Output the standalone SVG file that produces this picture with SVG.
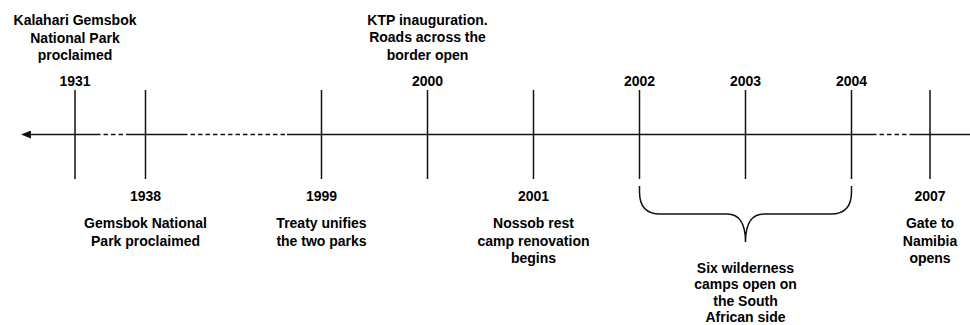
<svg xmlns="http://www.w3.org/2000/svg" width="970" height="325" viewBox="0 0 970 325">
  <style>
    text { font-family: "Liberation Sans", Arial, sans-serif; font-weight: bold; font-size: 14px; fill: #000; text-anchor: middle; }
    .line { stroke: #111; stroke-width: 1.5; fill: none; }
    .dash { stroke: #111; stroke-width: 1.5; fill: none; stroke-dasharray: 4.5 3; }
  </style>
  <defs>
    <marker id="arrow" viewBox="0 0 10 8" refX="0" refY="4" markerWidth="10" markerHeight="8" markerUnits="userSpaceOnUse" orient="auto-start-reverse">
      <path d="M0,0 L10,4 L0,8 Z" fill="#111"/>
    </marker>
  </defs>
  <rect width="970" height="325" fill="#fff"/>

  <g id="connectors">
    <line class="line" x1="31" y1="134.5" x2="96" y2="134.5" marker-start="url(#arrow)"/>
    <line class="dash" x1="96" y1="134.5" x2="127" y2="134.5"/>
    <line class="line" x1="127" y1="134.5" x2="183" y2="134.5"/>
    <line class="dash" x1="183" y1="134.5" x2="287" y2="134.5"/>
    <line class="line" x1="287" y1="134.5" x2="872" y2="134.5"/>
    <line class="dash" x1="872" y1="134.5" x2="912" y2="134.5"/>
    <line class="line" x1="912" y1="134.5" x2="970" y2="134.5"/>
    <path id="brace" class="line" d="M639.5,186 L639.5,192 C639.5,206 646,214 660,214 L727,214 C740,214 745.5,224 745.5,242 C745.5,224 751,214 764,214 L831,214 C845,214 851.5,206 851.5,192 L851.5,186"/>
  </g>

  <g id="e1931">
    <line class="line" x1="75" y1="90" x2="75" y2="179"/>
    <text x="75" y="25">Kalahari Gemsbok</text>
    <text x="75" y="42.5">National Park</text>
    <text x="75" y="60">proclaimed</text>
    <text x="75" y="85.5">1931</text>
  </g>

  <g id="e1938">
    <line class="line" x1="145.5" y1="90" x2="145.5" y2="179"/>
    <text x="145.5" y="201">1938</text>
    <text x="145.5" y="228">Gemsbok National</text>
    <text x="145.5" y="245.5">Park proclaimed</text>
  </g>

  <g id="e1999">
    <line class="line" x1="321.5" y1="90" x2="321.5" y2="179"/>
    <text x="321.5" y="201">1999</text>
    <text x="321.5" y="228">Treaty unifies</text>
    <text x="321.5" y="245.5">the two parks</text>
  </g>

  <g id="e2000">
    <line class="line" x1="427.5" y1="90" x2="427.5" y2="179"/>
    <text x="427.5" y="24.5">KTP inauguration.</text>
    <text x="427.5" y="42">Roads across the</text>
    <text x="427.5" y="59.5">border open</text>
    <text x="427.5" y="85.5">2000</text>
  </g>

  <g id="e2001">
    <line class="line" x1="533.5" y1="90" x2="533.5" y2="179"/>
    <text x="533.5" y="201">2001</text>
    <text x="533.5" y="228">Nossob rest</text>
    <text x="533.5" y="245.5">camp renovation</text>
    <text x="533.5" y="263">begins</text>
  </g>

  <g id="e2002">
    <line class="line" x1="639.5" y1="90" x2="639.5" y2="179"/>
    <text x="639.5" y="85.5">2002</text>
  </g>

  <g id="e2003">
    <line class="line" x1="745.5" y1="90" x2="745.5" y2="179"/>
    <text x="745.5" y="85.5">2003</text>
  </g>

  <g id="e2004">
    <line class="line" x1="851.5" y1="90" x2="851.5" y2="179"/>
    <text x="851.5" y="85.5">2004</text>
  </g>

  <g id="wilderness">
    <text x="745.5" y="272.5">Six wilderness</text>
    <text x="745.5" y="289">camps open on</text>
    <text x="745.5" y="305.5">the South</text>
    <text x="745.5" y="321.5">African side</text>
  </g>

  <g id="e2007">
    <line class="line" x1="930" y1="90" x2="930" y2="179"/>
    <text x="930" y="201">2007</text>
    <text x="930" y="228">Gate to</text>
    <text x="930" y="245.5">Namibia</text>
    <text x="930" y="263">opens</text>
  </g>
</svg>
